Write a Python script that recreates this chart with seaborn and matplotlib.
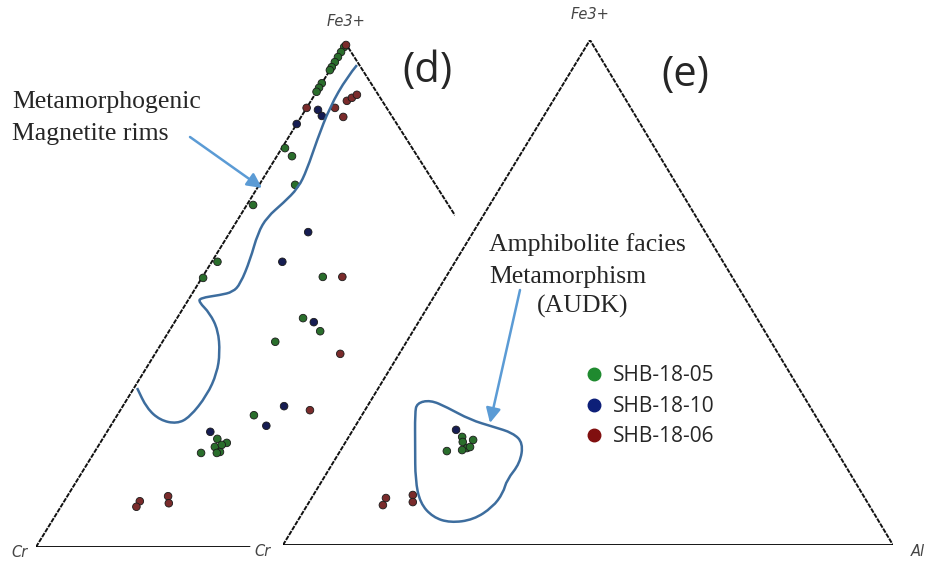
import matplotlib
matplotlib.use("Agg")
import matplotlib.pyplot as plt
from matplotlib.lines import Line2D
from matplotlib.patches import Polygon, PathPatch
from matplotlib.path import Path
import numpy as np
import pandas as pd
import seaborn as sns

sns.set_style("white")
plt.rcParams["font.family"] = ["DejaVu Sans"]

samples = ["SHB-18-05", "SHB-18-10", "SHB-18-06"]
point_colors = ["#2a6e2c", "#161d52", "#7a2b2b"]
legend_colors = ["#1f8a2f", "#0d1f78", "#800f0f"]

# compositions in %, Cr = 100 - Fe3+ - Al
# diagram (d)
d_fe_05 = [99.4, 98.4, 97.4, 96.4, 95.4, 94.8, 92.2, 91.3, 90.5, 79.3, 77.7, 72.0, 68.0, 56.7,
           53.5, 53.7, 45.5, 42.9, 40.8, 26.2, 21.5, 20.7, 19.9, 18.9, 18.7, 18.7, 20.3]
d_al_05 = [0.0, 0.0, 0.0, 0.0, 0.0, 0.0, 0.0, 0.0, 0.0, 0.5, 2.4, 5.7, 1.0, 0.9,
           0.2, 19.1, 20.0, 24.0, 17.9, 21.7, 18.2, 20.1, 18.6, 19.9, 19.5, 17.0, 19.5]
d_fe_10 = [86.9, 85.7, 84.1, 62.6, 56.7, 44.7, 28.0, 24.1, 22.9]
d_al_10 = [2.0, 3.2, 0.0, 12.4, 11.2, 22.1, 25.6, 24.7, 16.4]
d_fe_06 = [99.8, 87.3, 88.7, 89.3, 89.9, 87.3, 85.5, 53.7, 38.4, 27.2, 9.1, 8.0, 10.1, 8.7]
d_al_06 = [0.1, 0.0, 5.7, 6.2, 6.7, 4.5, 6.7, 22.2, 29.4, 30.1, 12.0, 12.0, 16.0, 16.8]

# diagram (e)
e_fe_05 = [21.4, 20.4, 20.8, 19.2, 18.8, 18.6, 19.4]
e_al_05 = [18.6, 19.2, 20.7, 20.5, 19.9, 17.5, 20.9]
e_fe_10 = [22.8]
e_al_10 = [16.9]
e_fe_06 = [9.3, 7.9, 9.9, 8.5]
e_al_06 = [12.2, 12.4, 16.3, 17.0]

# hand-drawn outlines (Fe3+ %, Al %)
rim_fe = [95.8, 93.4, 87.5, 80.9, 75.0, 71.4, 68.4, 65.6, 62.4, 57.1, 52.3, 50.7, 50.1, 49.5,
          48.7, 46.5, 43.1, 38.6, 34.6, 30.2, 25.8, 24.5, 25.2, 27.6, 31.6]
rim_al = [3.8, 3.4, 3.6, 4.8, 6.1, 6.5, 5.6, 4.4, 4.5, 5.9, 6.7, 6.3, 4.6, 1.7,
          1.9, 4.7, 7.7, 10.2, 11.7, 12.3, 11.7, 10.3, 7.3, 4.0, 0.5]
audk_fe = [28.1, 28.7, 27.3, 24.8, 23.4, 22.2, 20.2, 16.2, 12.9, 10.3, 7.5, 5.0, 4.4, 5.5,
           8.3, 12.9, 19.4, 26.1]
audk_al = [7.8, 9.7, 13.1, 18.2, 22.7, 26.5, 29.2, 30.7, 30.2, 30.9, 30.6, 28.7, 25.2, 21.8,
           18.3, 15.2, 11.9, 8.5]


def project(fe, al, apex):
    fe = np.asarray(fe) / 100.0
    al = np.asarray(al) / 100.0
    return al + fe * apex, fe


def make_frame(groups, apex):
    rows = []
    for name, fe, al in groups:
        x, y = project(fe, al, apex)
        rows.append(pd.DataFrame({"x": x, "y": y, "sample": name}))
    return pd.concat(rows, ignore_index=True)


def smooth_path(x, y, closed=False):
    # quadratic curve through the mid points, the given points act as controls
    p = np.column_stack([x, y])
    if closed:
        p = np.vstack([p, p[:2]])
        start = (p[0] + p[1]) / 2
        verts, codes = [start], [Path.MOVETO]
        for i in range(1, len(p) - 1):
            verts += [p[i], (p[i] + p[i + 1]) / 2]
            codes += [Path.CURVE3, Path.CURVE3]
    else:
        verts, codes = [p[0]], [Path.MOVETO]
        for i in range(1, len(p) - 1):
            verts += [p[i], (p[i] + p[i + 1]) / 2]
            codes += [Path.CURVE3, Path.CURVE3]
        verts.append(p[-1])
        codes.append(Path.LINETO)
    return Path(verts, codes)


W, H = 936, 564
fig = plt.figure(figsize=(9.36, 5.64), dpi=100)
fig.patch.set_facecolor("white")

apex_d = 310 / 630
apex_e = 307 / 610
ax_d = fig.add_axes([36 / W, 17 / H, 630 / W, 503 / H])
ax_e = fig.add_axes([283 / W, 19 / H, 610 / W, 505 / H])
ax_e.set_zorder(2)
for ax in (ax_d, ax_e):
    ax.set_xlim(0, 1)
    ax.set_ylim(0, 1)
    ax.axis("off")

side_style = dict(color="#111111", lw=1.4, ls=(0, (2.4, 0.6)), solid_capstyle="butt")
outline_style = dict(facecolor="none", edgecolor="#3d6d9e", lw=1.8, zorder=4, clip_on=False)
label_style = dict(ha="center", va="center", fontsize=10.5, color="#444444")

# (d)
ax_d.plot([0, apex_d, 1], [0, 1, 0], **side_style)
ax_d.plot([0, 1], [0, 0], color="black", lw=2)
df_d = make_frame([(samples[0], d_fe_05, d_al_05), (samples[1], d_fe_10, d_al_10),
                   (samples[2], d_fe_06, d_al_06)], apex_d)
sns.scatterplot(data=df_d, x="x", y="y", hue="sample", hue_order=samples,
                palette=point_colors, s=30, edgecolor="#1a1a1a", linewidth=0.6,
                legend=False, ax=ax_d, clip_on=False, zorder=3)
rx, ry = project(rim_fe, rim_al, apex_d)
ax_d.add_patch(PathPatch(smooth_path(rx, ry), **outline_style))
ax_d.text(apex_d, 1.044, "Fe3+", style="italic", **label_style)
ax_d.text(-0.026, -0.01, "Cr", style="italic", **label_style)

# (e) on top, its white background hides part of (d)
ax_e.add_patch(Polygon([(-0.0776, -0.05), (0.5096, 1.1), (1.1, 1.1), (1.1, -0.05)],
                       closed=True, facecolor="white", edgecolor="none", clip_on=False,
                       zorder=0))
ax_e.plot([0, apex_e, 1], [0, 1, 0], **side_style)
ax_e.plot([0, 1], [0, 0], color="black", lw=2)
df_e = make_frame([(samples[0], e_fe_05, e_al_05), (samples[1], e_fe_10, e_al_10),
                   (samples[2], e_fe_06, e_al_06)], apex_e)
sns.scatterplot(data=df_e, x="x", y="y", hue="sample", hue_order=samples,
                palette=point_colors, s=30, edgecolor="#1a1a1a", linewidth=0.6,
                legend=False, ax=ax_e, clip_on=False, zorder=3)
ox, oy = project(audk_fe, audk_al, apex_e)
ax_e.add_patch(PathPatch(smooth_path(ox, oy, closed=True), **outline_style))
ax_e.text(apex_e, 1.05, "Fe3+", style="italic", **label_style)
ax_e.text(-0.033, -0.012, "Cr", style="italic", **label_style)
ax_e.text(1.04, -0.012, "Al", style="italic", **label_style)

handles = [Line2D([], [], marker="o", ls="", color=c, markersize=9) for c in legend_colors]
ax_e.legend(handles, samples, loc="upper left", bbox_to_anchor=(573 / W, 1 - 355 / H),
            bbox_transform=fig.transFigure, frameon=False,
            handlelength=1.0, handletextpad=0.4, labelspacing=0.45, borderpad=0,
            prop={"family": "Open Sans", "size": 15})

# labels and annotations
ax_o = fig.add_axes([0, 0, 1, 1])
ax_o.set_zorder(5)
ax_o.set_xlim(0, W)
ax_o.set_ylim(H, 0)
ax_o.axis("off")
ax_o.text(427, 71, "(d)", ha="center", va="center", fontsize=30, family="Open Sans")
ax_o.text(685, 75, "(e)", ha="center", va="center", fontsize=30, family="Open Sans")
serif = dict(fontsize=18.5, family="Liberation Serif", va="baseline")
ax_o.text(12, 108, "Metamorphogenic", ha="left", **serif)
ax_o.text(12, 140, "Magnetite rims", ha="left", **serif)
ax_o.text(489, 251, "Amphibolite facies", ha="left", **serif)
ax_o.text(489, 283, "Metamorphism", ha="left", **serif)
ax_o.text(537, 313, "(AUDK)", ha="left", **serif)
arrow = dict(arrowstyle="-|>", color="#5b9bd5", lw=1.8, mutation_scale=22,
             shrinkA=0, shrinkB=0)
ax_o.annotate("", xy=(262, 188), xytext=(190, 137), arrowprops=arrow)
ax_o.annotate("", xy=(490, 423), xytext=(520, 290), arrowprops=arrow)

fig.savefig("out.png", dpi=100)
